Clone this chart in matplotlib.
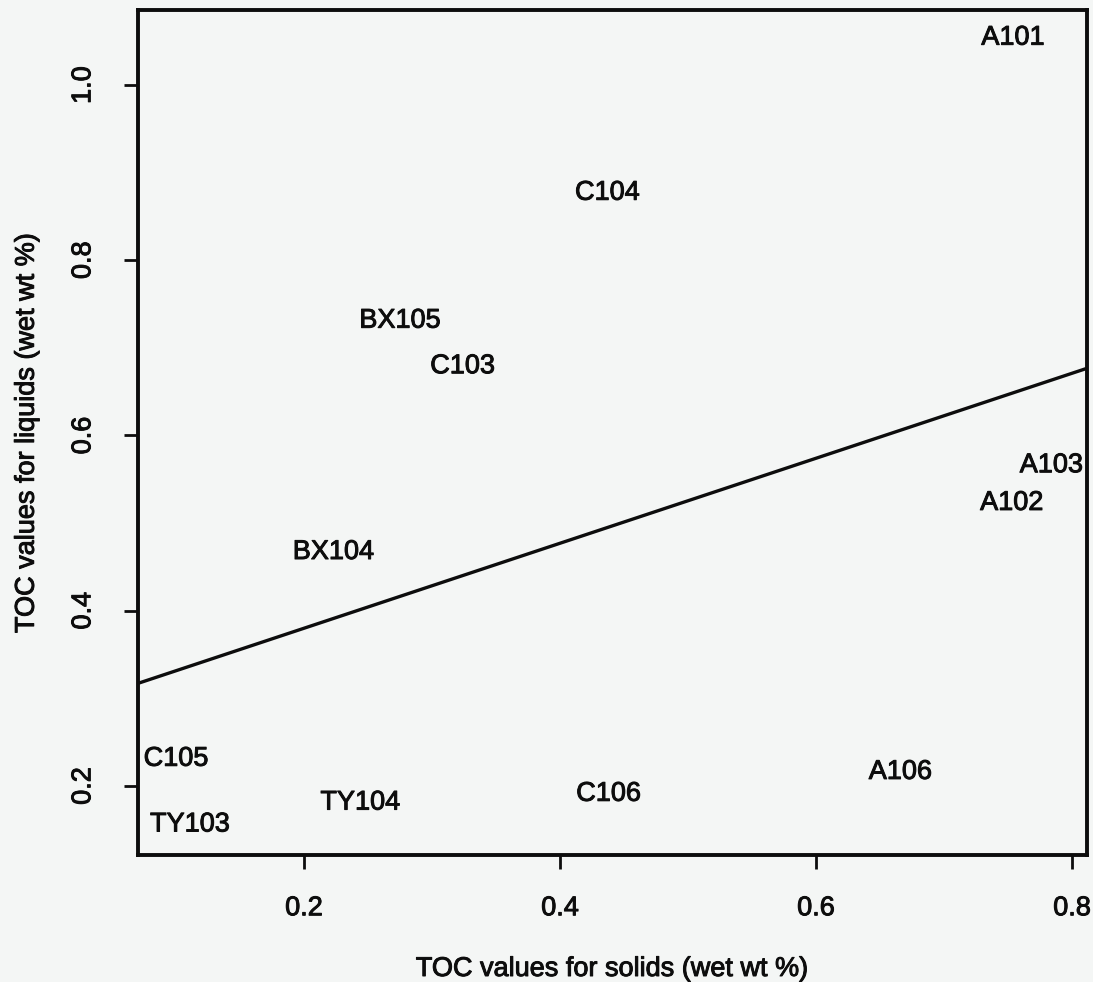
import matplotlib
matplotlib.use('Agg')
import matplotlib.pyplot as plt
import matplotlib.patheffects as pe
import numpy as np

# tank labels and TOC values (wet wt %)
tanks = ['A101', 'C104', 'BX105', 'C103', 'A103', 'A102', 'BX104',
         'C105', 'TY103', 'TY104', 'A106', 'C106']
solids = [0.754, 0.437, 0.275, 0.324, 0.784, 0.753, 0.223,
          0.100, 0.111, 0.244, 0.666, 0.438]
liquids = [1.054, 0.877, 0.731, 0.679, 0.566, 0.523, 0.467,
           0.231, 0.156, 0.181, 0.216, 0.191]

# fitted line: intercept, slope
fit_a = 0.283
fit_b = 0.485

plt.rcParams['font.family'] = ['Liberation Sans', 'DejaVu Sans']
bg = '#f4f6f5'
ink = '#0d0d0d'
# scanned print looks a bit heavier than plain regular text
thick = [pe.withStroke(linewidth=0.7, foreground=ink)]

fig = plt.figure(figsize=(10.93, 9.82), dpi=100, facecolor=bg)
ax = fig.add_axes([138/1093, 127/982, 949/1093, 845/982], facecolor=bg)

for name, x, y in zip(tanks, solids, liquids):
    ax.text(x, y, name, ha='center', va='center', fontsize=19.5, color=ink,
            path_effects=thick)

xlim = (0.0703, 0.8117)
ax.plot(np.array(xlim), fit_a + fit_b * np.array(xlim), color=ink, lw=2.4)

ax.set_xlim(*xlim)
ax.set_ylim(0.1212, 1.0856)
ax.set_xticks([0.2, 0.4, 0.6, 0.8])
ax.set_yticks([0.2, 0.4, 0.6, 0.8, 1.0])
ax.set_xticklabels(['0.2', '0.4', '0.6', '0.8'], fontsize=19.5,
                   path_effects=thick)
ax.set_yticklabels(['0.2', '0.4', '0.6', '0.8', '1.0'], fontsize=19.5,
                   rotation=90, va='center', path_effects=thick)
ax.tick_params(direction='out', length=10, width=2, color=ink, labelcolor=ink)
ax.tick_params(axis='x', pad=19)
ax.tick_params(axis='y', pad=20)
for s in ax.spines.values():
    s.set_linewidth(2.8)
    s.set_color(ink)

ax.set_xlabel('TOC values for solids (wet wt %)', fontsize=19.5, labelpad=25,
              color=ink, path_effects=thick)
ax.set_ylabel('TOC values for liquids (wet wt %)', fontsize=19.5, labelpad=22,
              color=ink, path_effects=thick)

fig.savefig('out.png', dpi=100, facecolor=bg)
